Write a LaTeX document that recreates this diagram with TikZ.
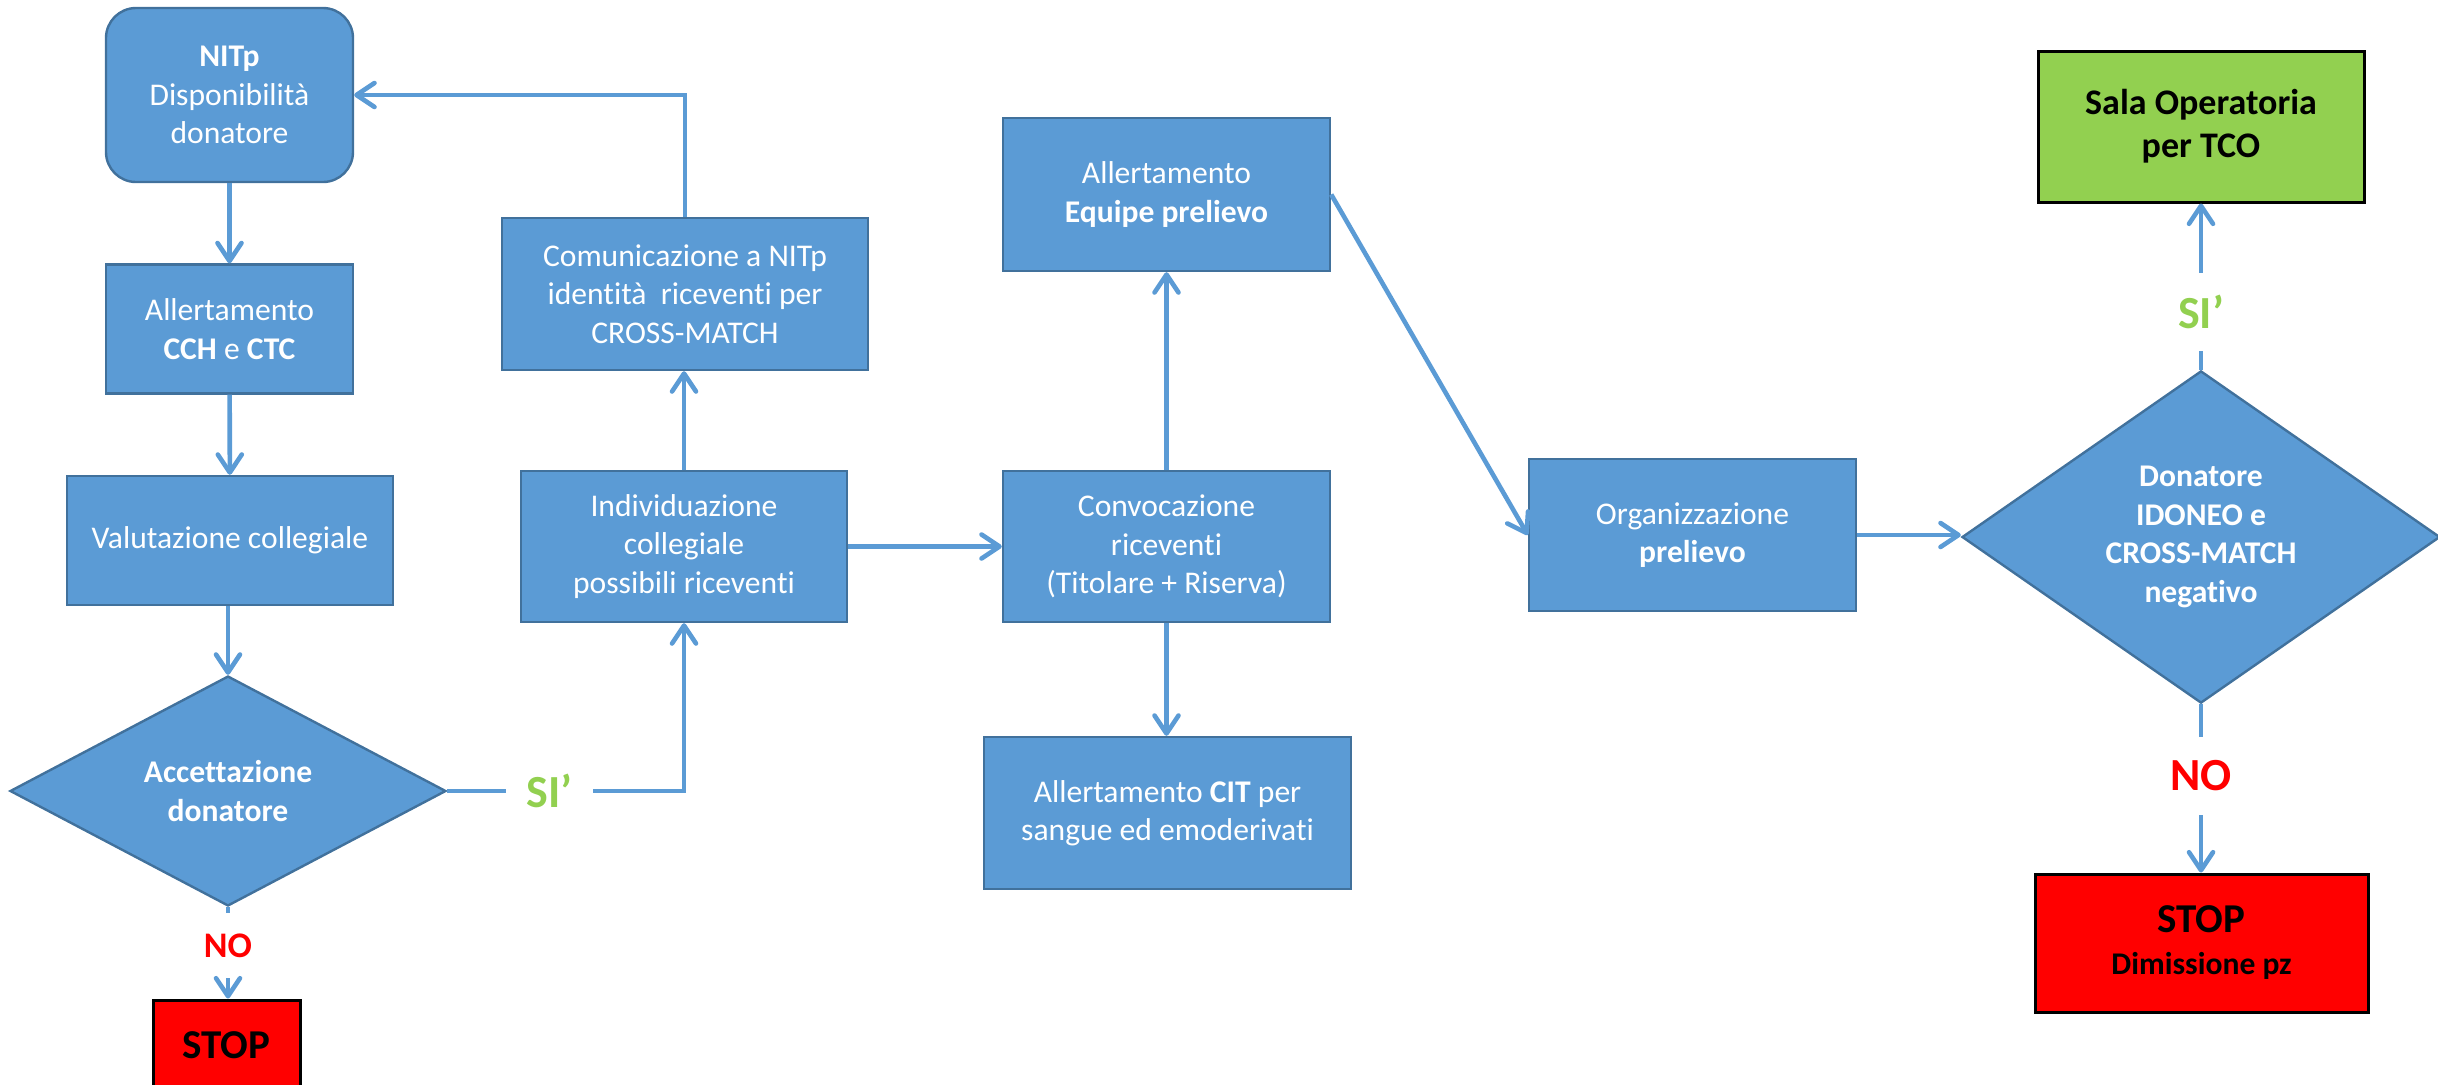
\documentclass[tikz,border=0pt]{standalone}
\usepackage{fontspec}
\setmainfont{Carlito}[Ligatures=NoCommon]
\usetikzlibrary{arrows.meta,shapes.geometric}
\definecolor{boxblue}{HTML}{5B9BD5}
\definecolor{edgeblue}{HTML}{41719C}
\definecolor{okgreen}{HTML}{92D050}
\definecolor{stopred}{HTML}{FF0000}
\newcommand\basefnt{\fontsize{15.8pt}{19.25pt}\selectfont}
\begin{document}
\begin{tikzpicture}[x=0.5pt,y=-0.5pt,
  size/.style 2 args={minimum width=#1*0.5pt,minimum height=#2*0.5pt},
  proc/.style={rectangle,draw=edgeblue,line width=1.2pt,fill=boxblue,text=white,align=center,inner sep=0pt,font=\basefnt},
  dec/.style={diamond,draw=edgeblue,line width=1.2pt,fill=boxblue,text=white,align=center,inner sep=0pt,font=\basefnt\bfseries},
  term/.style={rectangle,draw=black,line width=1.5pt,text=black,align=center,inner sep=0pt},
  lbl/.style={inner sep=0pt,align=center},
  conn/.style={draw=boxblue,line width=2.3pt},
  arr/.style={conn,-{Straight Barb[length=9pt,width=12pt,round]}}
]
\useasboundingbox (0,0) rectangle (2438,1084);
\clip (0,0) rectangle (2438,1084);

% nodes
\node[proc,rounded corners=15pt,size={247}{174}] (nitp) at (229.5,95) {\textbf{NITp}\\Disponibilità\\donatore};
\node[proc,size={247}{129}] (cch) at (229.5,329) {Allertamento\\\textbf{CCH} e \textbf{CTC}};
\node[proc,size={326}{129}] (val) at (230,540.5) {Valutazione collegiale};
\node[dec,size={436}{230}] (d1) at (228,791) {Accettazione\\donatore};
\node[term,fill=stopred,size={147}{90},font=\fontsize{20.5pt}{24pt}\selectfont\bfseries] (stop1) at (226.5,1045) {STOP};

\node[proc,size={366}{152}] (com) at (685,294) {Comunicazione a NITp\\identità~ riceventi per\\CROSS-MATCH};
\node[proc,size={326}{151}] (ind) at (684,546.5) {Individuazione\\collegiale\\possibili riceventi};
\node[proc,size={327}{151}] (conv) at (1166.5,546.5) {Convocazione\\riceventi\\(Titolare + Riserva)};
\node[proc,size={327}{153}] (equ) at (1166.5,194.5) {Allertamento\\\textbf{Equipe prelievo}};
\node[proc,size={367}{152}] (cit) at (1167.5,813) {Allertamento \textbf{CIT} per\\sangue ed emoderivati};
\node[proc,size={327}{152}] (org) at (1692.5,535) {Organizzazione\\\textbf{prelievo}};
\node[dec,size={478}{286}] (d2) at (2201,537) {Donatore\\IDONEO e\\CROSS-MATCH\\negativo};
\node[term,fill=okgreen,size={326}{151},font=\fontsize{18pt}{21.5pt}\selectfont\bfseries] (sala) at (2201,126.5) {Sala Operatoria\\per TCO};
\node[term,fill=stopred,size={333}{138},font=\fontsize{15.8pt}{21pt}\selectfont\bfseries] (stop2) at (2201.5,943) {{\fontsize{20.5pt}{21pt}\selectfont STOP}\\Dimissione pz};

% labels
\node[lbl,size={87}{40},text=okgreen,font=\fontsize{23pt}{26pt}\selectfont\bfseries] (si1) at (549.5,791) {SI’};
\node[lbl,size={60}{65},text=stopred,font=\fontsize{18pt}{20pt}\selectfont\bfseries] (no1) at (228,945.5) {NO};
\node[lbl,size={60}{78},text=okgreen,font=\fontsize{23pt}{26pt}\selectfont\bfseries] (si2) at (2201,312) {SI’};
\node[lbl,size={60}{78},text=stopred,font=\fontsize{23pt}{26pt}\selectfont\bfseries] (no2) at (2201,776) {NO};

% connectors
\draw[arr] (nitp) -- (cch);
\draw[arr] (cch) -- (val);
\draw[arr] (val.south -| d1.north) -- (d1.north);
\draw[conn] (d1.south) -- (no1.north);
\draw[arr] (no1.south) -- (no1.south |- stop1.north);
\draw[conn] (d1.east) -- (si1.west);
\draw[arr] (si1.east) -| (ind.south);
\draw[arr] (ind.north) -- (ind.north |- com.south);
\draw[arr] (com.north) |- (nitp.east);
\draw[arr] (ind.east) -- (conv.west);
\draw[arr] (conv.north) -- (equ.south);
\draw[arr] (conv.south) -- (conv.south |- cit.north);
\draw[arr] (equ.east) -- (org.west);
\draw[arr] (org.east) -- (org.east -| d2.west);
\draw[conn] (d2.north) -- (si2.south);
\draw[arr] (si2.north) -- (sala.south);
\draw[conn] (d2.south) -- (no2.north);
\draw[arr] (no2.south) -- (no2.south |- stop2.north);
\end{tikzpicture}
\end{document}
